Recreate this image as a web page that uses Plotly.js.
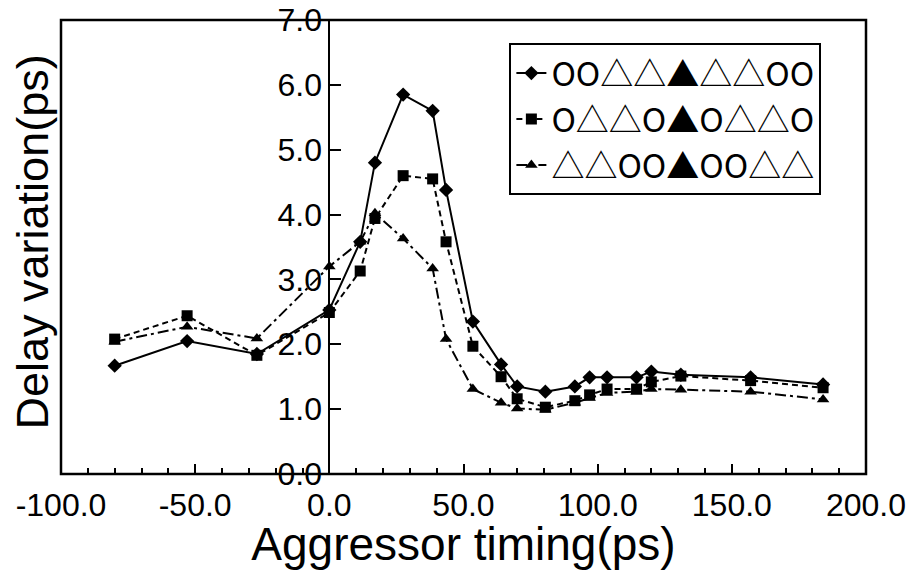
<!DOCTYPE html>
<html>
<head>
<meta charset="utf-8">
<script src="https://cdn.plot.ly/plotly-3.0.1.min.js"></script>
<style>html,body{margin:0;padding:0;background:#fff;}#chart{width:911px;height:570px;}</style>
</head>
<body>
<div id="chart"></div>
<script>
// Aggressor timing (ps)
const timing = [-80, -53, -27, 0, 11.5, 17, 27.5, 38.5, 43.5, 53.5, 64, 70, 80.5, 91.5, 97, 103.5, 114.5, 120, 131, 157, 184];
// Delay variation (ps)
const seriesA = [1.67, 2.05, 1.85, 2.53, 3.58, 4.80, 5.85, 5.60, 4.38, 2.35, 1.69, 1.35, 1.27, 1.35, 1.49, 1.49, 1.49, 1.58, 1.53, 1.49, 1.38];
const seriesB = [2.08, 2.44, 1.83, 2.49, 3.13, 3.94, 4.60, 4.55, 3.58, 1.97, 1.50, 1.16, 1.03, 1.13, 1.22, 1.31, 1.31, 1.42, 1.51, 1.44, 1.33];
const seriesC = [2.04, 2.27, 2.09, 3.20, 3.58, 4.02, 3.63, 3.17, 2.08, 1.31, 1.10, 1.01, 0.99, 1.10, 1.17, 1.25, 1.27, 1.31, 1.30, 1.27, 1.15];
const seriesNames = ["OO△△▲△△OO", "O△△O▲O△△O", "△△OO▲OO△△"];
const xTicks = [-100, -50, 0, 50, 100, 150, 200];
const xTickText = ["-100.0", "-50.0", "0.0", "50.0", "100.0", "150.0", "200.0"];
const yTicks = [0, 1, 2, 3, 4, 5, 6, 7];
const yTickText = ["0.0", "1.0", "2.0", "3.0", "4.0", "5.0", "6.0", "7.0"];

const font = "Liberation Sans, Arial, Helvetica, sans-serif";

const traces = [
  {x: timing, y: seriesA, name: seriesNames[0], mode: "lines+markers",
   line: {color: "#000", width: 2, dash: "solid"},
   marker: {symbol: "diamond", size: 11, color: "#000"}},
  {x: timing, y: seriesB, name: seriesNames[1], mode: "lines+markers",
   line: {color: "#000", width: 2, dash: "6px,4px"},
   marker: {symbol: "square", size: 11, color: "#000"}},
  {x: timing, y: seriesC, name: seriesNames[2], mode: "lines+markers",
   line: {color: "#000", width: 2, dash: "11px,4px,3px,4px"},
   marker: {symbol: "triangle-up", size: 11, color: "#000"}}
];

const layout = {
  width: 911, height: 570,
  margin: {l: 61, r: 45, t: 20, b: 96},
  paper_bgcolor: "#fff", plot_bgcolor: "#fff",
  font: {family: font, color: "#000"},
  showlegend: true,
  legend: {x: 0.557, y: 0.949, xanchor: "left", yanchor: "top",
           bordercolor: "#000", borderwidth: 2, bgcolor: "#fff",
           font: {family: "Noto Sans CJK JP, sans-serif", size: 33, color: "#000"},
           tracegroupgap: 0},
  xaxis: {range: [-100, 200], tickvals: xTicks, ticktext: xTickText,
          ticks: "inside", ticklen: 10, tickwidth: 2, tickcolor: "#000",
          minor: {dtick: 10, ticks: "inside", ticklen: 6, tickwidth: 2, tickcolor: "#000"},
          showline: false, showgrid: false, zeroline: false,
          ticklabelstandoff: 9,
          tickfont: {size: 32, family: font},
          title: {text: "Aggressor timing(ps)", font: {size: 46, family: font}, standoff: 4}},
  yaxis: {range: [0, 7], tickvals: yTicks, ticktext: yTickText,
          anchor: "free", position: 1/3, side: "left",
          ticks: "inside", ticklen: 11, tickwidth: 2, tickcolor: "#000",
          showline: true, linecolor: "#000", linewidth: 2,
          showgrid: false, zeroline: false,
          tickfont: {size: 32, family: font}},
  shapes: [{type: "rect", xref: "paper", yref: "paper", x0: 0, x1: 1, y0: 0, y1: 1,
            line: {color: "#000", width: 2.5}, layer: "above"}],
  annotations: [{text: "Delay variation(ps)", xref: "paper", yref: "paper",
                 x: -0.036, y: 0.51, xanchor: "center", yanchor: "middle",
                 textangle: -90, showarrow: false,
                 font: {size: 45, family: font, color: "#000"}}]
};

Plotly.newPlot("chart", traces, layout, {staticPlot: true});
</script>
</body>
</html>
